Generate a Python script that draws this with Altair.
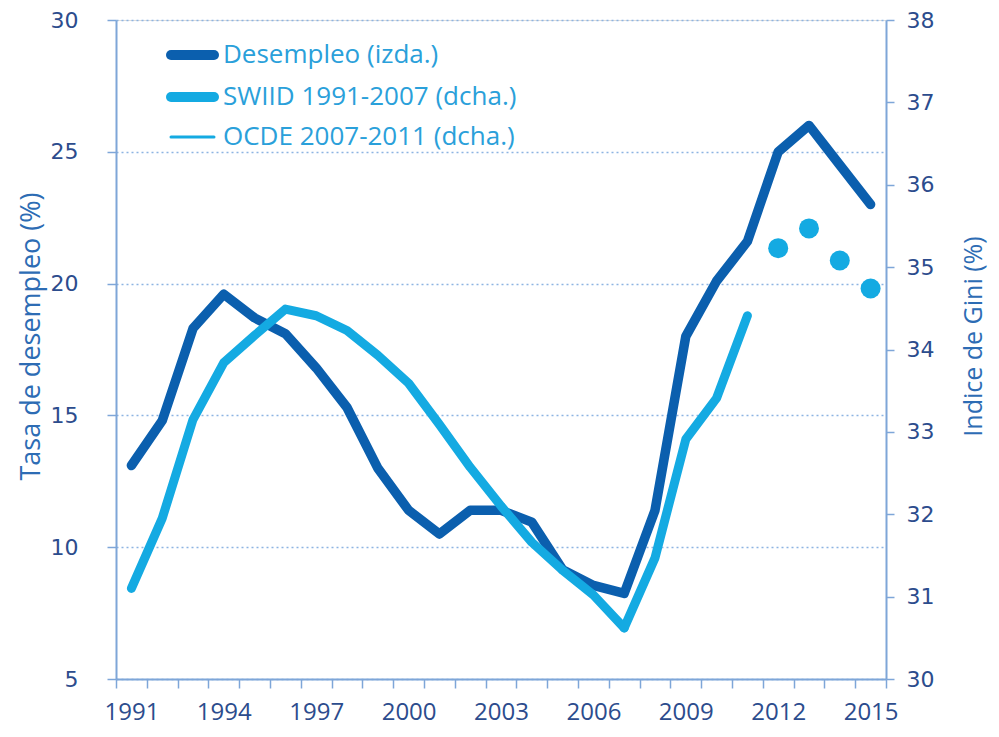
import altair as alt
import pandas as pd

# ---- data ----
years = list(range(1991, 2016))
desempleo = [13.1, 14.8, 18.3, 19.6, 18.7, 18.1, 16.8, 15.3, 13.0, 11.4,
             10.5, 11.4, 11.4, 10.95, 9.15, 8.55, 8.25, 11.4, 18.0, 20.1,
             21.6, 25.0, 26.0, 24.5, 23.0]

swiid_years = list(range(1991, 2008))
swiid = [31.1, 31.95, 33.15, 33.84, 34.17, 34.49, 34.41, 34.23, 33.93, 33.59,
         33.09, 32.57, 32.10, 31.66, 31.32, 31.02, 30.62]

ocde_years = [2007, 2008, 2009, 2010, 2011]
ocde = [30.62, 31.47, 32.91, 33.41, 34.41]

dot_years = [2012, 2013, 2014, 2015]
dots = [35.23, 35.47, 35.08, 34.74]

x_label_years = [1991, 1994, 1997, 2000, 2003, 2006, 2009, 2012, 2015]
left_ticks = [5, 10, 15, 20, 25, 30]
right_ticks = [30, 31, 32, 33, 34, 35, 36, 37, 38]

legend_labels = ["Desempleo (izda.)", "SWIID 1991-2007 (dcha.)", "OCDE 2007-2011 (dcha.)"]

# ---- styles ----
DARK = "#0B5FAE"
LIGHT = "#14AAE2"
AXIS = "#7EA6D8"
GRID = "#8DB4E2"
TICKLBL = "#2C4C8D"
TITLE = "#2D6CB4"
LEGTXT = "#2AA0DA"

W, H = 770, 659
TOP = 12
BOTTOM = 50
band = W / 25.0

df_u = pd.DataFrame({"year": years, "value": desempleo})
df_g = pd.concat([
    pd.DataFrame({"year": swiid_years, "gini": swiid, "series": "SWIID"}),
    pd.DataFrame({"year": ocde_years, "gini": ocde, "series": "OCDE"}),
], ignore_index=True)
df_d = pd.DataFrame({"year": dot_years, "gini": dots})

label_list = ",".join(str(v) for v in x_label_years)
x_axis = alt.Axis(
    values=[1990.5 + i for i in range(26)],
    tickCount=60,
    labelExpr=f"indexof([{label_list}], datum.value + 0.5) >= 0 ? '' + (datum.value + 0.5) : ''",
    labelOffset=band / 2,
    labelFlush=False,
    labelOverlap=False,
    tickSize=9, tickWidth=1.5, tickColor=AXIS,
    domainColor=AXIS, domainWidth=2,
    labelFont="Open Sans", labelFontSize=24, labelColor=TICKLBL,
    labelPadding=12, grid=False, title=None,
)
x_enc = alt.X("year:Q", scale=alt.Scale(domain=[1990.5, 2015.5], nice=False, zero=False), axis=x_axis)

mid_y = 336 - 8 - TOP
left_axis = alt.Axis(
    orient="left", values=left_ticks, tickCount=60, tickSize=9, tickWidth=1.5, tickColor=AXIS,
    domainColor=AXIS, domainWidth=2, format="d",
    labelFont="DejaVu Sans", labelFontSize=22, labelColor=TICKLBL, labelPadding=29,
    grid=True, gridColor=GRID, gridDash=[2, 3], gridWidth=1.5,
    title="Tasa de desempleo (%)", titleFont="Open Sans", titleFontSize=27,
    titleFontWeight="normal", titleColor=TITLE, titleAngle=-90,
    titleX=-77, titleY=mid_y, titleAlign="center", titleBaseline="alphabetic",
)
right_axis = alt.Axis(
    orient="right", values=right_ticks, tickCount=60, tickSize=8, tickWidth=1.5, tickColor=AXIS,
    domainColor=AXIS, domainWidth=2, format="d",
    labelFont="DejaVu Sans", labelFontSize=22, labelColor=TICKLBL, labelPadding=12,
    grid=False,
    title="Indice de Gini (%)", titleFont="Open Sans", titleFontSize=25,
    titleFontWeight="normal", titleColor=TITLE, titleAngle=-90,
    titleX=95, titleY=mid_y, titleAlign="center", titleBaseline="alphabetic",
)

unemp = alt.Chart(df_u).mark_line(
    color=DARK, strokeWidth=9.5, strokeCap="round", strokeJoin="round"
).encode(
    x=x_enc,
    y=alt.Y("value:Q", scale=alt.Scale(domain=[5, 30], nice=False, zero=False), axis=left_axis),
)

gy = alt.Y("gini:Q", scale=alt.Scale(domain=[30, 38], nice=False, zero=False), axis=right_axis)
gini_lines = alt.Chart(df_g).mark_line(
    color=LIGHT, strokeWidth=9, strokeCap="round", strokeJoin="round"
).encode(x=alt.X("year:Q"), y=gy, detail="series:N")
gini_dots = alt.Chart(df_d).mark_circle(color=LIGHT, size=400, opacity=1).encode(
    x=alt.X("year:Q"), y=alt.Y("gini:Q"))
gini = alt.layer(gini_lines, gini_dots)

# manual legend
leg_colors = [DARK, LIGHT, LIGHT]
leg_widths = [10, 10, 3]
leg_y = [55 - 8 - TOP, 97 - 8 - TOP, 137 - 8 - TOP]
leg_layers = []
for lbl, col, sw, yy in zip(legend_labels, leg_colors, leg_widths, leg_y):
    d = pd.DataFrame({"label": [lbl]})
    leg_layers.append(
        alt.Chart(d).mark_rule(color=col, strokeWidth=sw, strokeCap="round").encode(
            x=alt.value(55), x2=alt.value(98), y=alt.value(yy))
    )
    leg_layers.append(
        alt.Chart(d).mark_text(
            align="left", baseline="middle", font="Open Sans", fontSize=26, color=LEGTXT
        ).encode(x=alt.value(107), y=alt.value(yy), text="label:N")
    )

chart = alt.layer(unemp, gini, *leg_layers).resolve_scale(y="independent").properties(
    width=W, height=H,
    autosize=alt.AutoSizeParams(type="none"),
    padding={"left": 108, "top": TOP, "right": 105, "bottom": BOTTOM},
).configure_view(stroke=None).configure(background="white")

chart.save("out.html", embed_options={"renderer": "svg", "actions": False})
